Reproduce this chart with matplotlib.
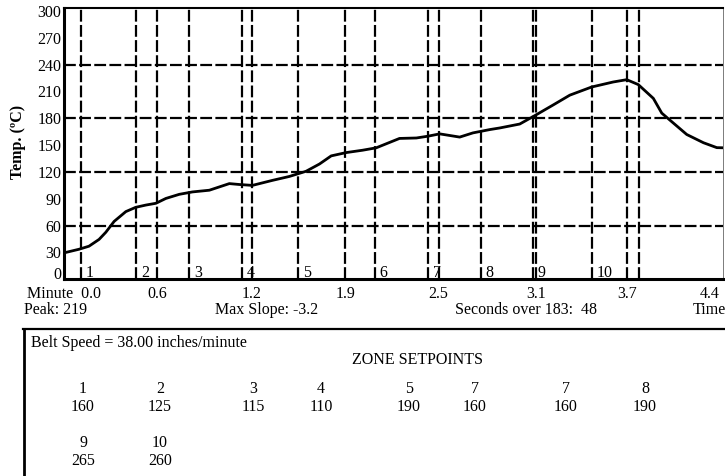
import matplotlib
matplotlib.use('Agg')
import matplotlib.pyplot as plt
from matplotlib.lines import Line2D

plt.rcParams['font.family'] = ['Liberation Serif', 'DejaVu Serif']
plt.rcParams['lines.scale_dashes'] = False

# ---------------- data ----------------
time_min = [0.0, 0.011, 0.100, 0.166, 0.233, 0.278, 0.333, 0.411, 0.477, 0.544,
            0.611, 0.677, 0.766, 0.854, 0.966, 1.099, 1.165, 1.252, 1.385, 1.498,
            1.609, 1.698, 1.776, 1.876, 1.984, 2.075, 2.230, 2.342, 2.419, 2.497,
            2.630, 2.718, 2.830, 2.896, 3.029, 3.129, 3.251, 3.362, 3.507, 3.650,
            3.740, 3.817, 3.917, 3.973, 4.050, 4.139, 4.250, 4.339, 4.394]
temp_c = [29, 30, 33.6, 37, 44.6, 52.6, 64.7, 75.7, 80.5, 83,
          85, 90.4, 95, 97.7, 99.6, 107, 106, 105, 110.6, 115,
          120.8, 128.9, 138, 141.7, 144.3, 147, 157.5, 158, 160, 162.6,
          159, 163.7, 167.4, 169.2, 173.6, 183, 194.9, 205.9, 215, 220.6,
          223.2, 217.7, 202.3, 185.8, 174.7, 161.9, 152.7, 147.2, 147]

zone_bounds = [0.113, 0.479, 0.832, 1.185, 1.558, 2.064, 2.417, 2.770, 3.116, 3.509, 3.822]
zone_names = ['1', '2', '3', '4', '5', '6', '7', '8', '9', '10']

time_ticks = [0.0, 0.62, 1.25, 1.87, 2.49, 3.14, 3.74, 4.36]
time_labels = ['Minute  0.0', '0.6', '1.2', '1.9', '2.5', '3.1', '3.7', '4.4']
temp_ticks = [0, 30, 60, 90, 120, 150, 180, 210, 240, 270, 300]
temp_grid = [60, 120, 180, 240]

peak_temp = 219
max_slope = -3.2
threshold = 183
seconds_over = 48
belt_speed = 38.00

setpoint_zones = ['1', '2', '3', '4', '5', '7', '7', '8', '9', '10']
setpoint_values = [160, 125, 115, 110, 190, 160, 160, 190, 265, 260]

# ---------------- layout ----------------
W, H = 725, 476
FS = 11.5


def fx(x):
    return x / W


def fy(y):
    return 1 - y / H


fig = plt.figure(figsize=(W / 100, H / 100), dpi=100)
ax = fig.add_axes([fx(64), fy(279.3), (723 - 64) / W, (279.3 - 8.3) / H])
ax.set_xlim(0, 4.38)
ax.set_ylim(0, 303)

dash = (0, (8.5, 2.4))
for y in temp_grid:
    ax.axhline(y, color='black', lw=1.6, linestyle=dash, zorder=1)
for t in time_ticks[1:-1]:
    ax.axvline(t, color='black', lw=1.6, linestyle=dash, zorder=1)
for z in zone_bounds:
    ax.axvline(z, color='black', lw=1.6, linestyle=dash, zorder=1)

ax.plot(time_min, temp_c, color='black', lw=2.0, zorder=3, solid_joinstyle='round')

for z, name in zip(zone_bounds, zone_names):
    ax.annotate(name, xy=(z, 0), xytext=(3.5, 1.5), textcoords='offset points',
                ha='left', va='baseline', fontsize=FS, zorder=4)

ax.set_xticks(time_ticks)
ax.set_xticklabels(time_labels)
ax.set_yticks(temp_ticks)
ax.tick_params(length=0, labelsize=FS)
ax.tick_params(axis='y', pad=2)
ax.tick_params(axis='x', pad=5)
ax.get_xticklabels()[-1].set_ha('right')
ax.get_yticklabels()[0].set_va('baseline')

ax.spines['left'].set_linewidth(2.2)
ax.spines['bottom'].set_linewidth(2.2)
ax.spines['top'].set_linewidth(1.5)
ax.spines['right'].set_linewidth(0.6)
ax.spines['right'].set_color('#666666')

fig.text(fx(18), fy(142), 'Temp. (ºC)', rotation=90, ha='center', va='center',
         fontsize=FS, fontweight='bold')

# summary line
fig.text(fx(24), fy(310), f'Peak: {peak_temp}', ha='left', va='center', fontsize=FS)
fig.text(fx(215), fy(310), f'Max Slope: {max_slope}', ha='left', va='center', fontsize=FS)
fig.text(fx(455), fy(310), f'Seconds over {threshold}:  {seconds_over}', ha='left',
         va='center', fontsize=FS)
fig.text(fx(693), fy(310), 'Time', ha='left', va='center', fontsize=FS)

# box
fig.add_artist(Line2D([fx(23.5), fx(23.5)], [fy(328.5), fy(490)], color='black', lw=2.0,
                      transform=fig.transFigure))
fig.add_artist(Line2D([fx(22.5), fx(760)], [fy(328.5), fy(328.5)], color='black', lw=1.6,
                      transform=fig.transFigure))

fig.text(fx(31), fy(343), f'Belt Speed = {belt_speed:.2f} inches/minute', ha='left',
         va='center', fontsize=FS)
fig.text(fx(418), fy(360), 'ZONE SETPOINTS', ha='center', va='center', fontsize=FS)

col_x = [83, 160, 253, 321, 409, 475, 566, 645, 83, 160]
row_y = [389, 389, 389, 389, 389, 389, 389, 389, 443, 443]
for name, val, cx, ry in zip(setpoint_zones, setpoint_values, col_x, row_y):
    fig.text(fx(cx), fy(ry), name, ha='center', va='center', fontsize=FS)
    fig.text(fx(cx), fy(ry + 18), str(val), ha='center', va='center', fontsize=FS)

fig.savefig('out.png', dpi=100)
